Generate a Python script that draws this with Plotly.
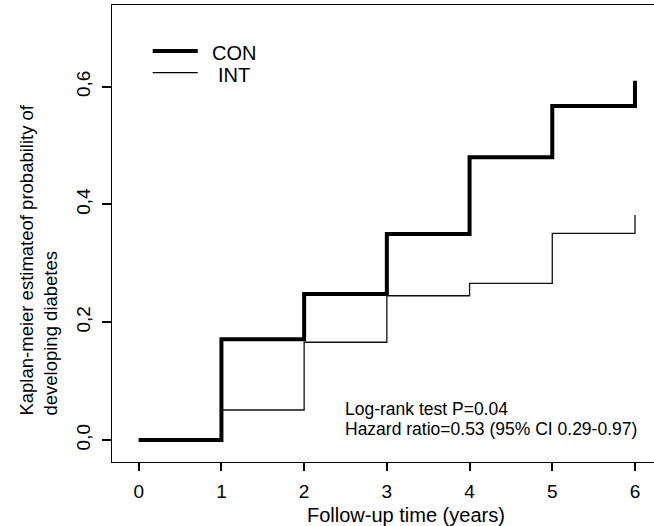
import plotly.graph_objects as go

# ---- data ----
times = [0, 1, 2, 3, 4, 5, 6]
con_values = [0.0, 0.171, 0.248, 0.350, 0.480, 0.567, 0.610]
int_values = [0.0, 0.051, 0.166, 0.245, 0.266, 0.351, 0.382]
series_names = ["CON", "INT"]
x_tick_vals = [0, 1, 2, 3, 4, 5, 6]
x_tick_text = ["0", "1", "2", "3", "4", "5", "6"]
y_tick_vals = [0.0, 0.2, 0.4, 0.6]
y_tick_text = ["0,0", "0,2", "0,4", "0,6"]
stats_lines = ["Log-rank test P=0.04", "Hazard ratio=0.53 (95% CI 0.29-0.97)"]
x_title = "Follow-up time (years)"
y_title = "Kaplan-meier estimateof probability of<br>developing diabetes"

FONT = "Liberation Sans, Arial, sans-serif"
W, H = 654, 526
L, T, B, R = 112, 5, 64, 0

fig = go.Figure()
fig.add_trace(go.Scatter(x=times, y=int_values, mode="lines", line_shape="hv",
                         line=dict(color="#111111", width=1.3), name=series_names[1],
                         showlegend=False))
fig.add_trace(go.Scatter(x=times, y=con_values, mode="lines", line_shape="hv",
                         line=dict(color="black", width=4), name=series_names[0],
                         showlegend=False))

xr = [-0.323, 6.230]
yr = [-0.0373, 0.7386]

fig.update_layout(
    width=W, height=H,
    margin=dict(l=L, r=R, t=T, b=B),
    paper_bgcolor="white", plot_bgcolor="white",
    font=dict(family=FONT, size=19, color="black"),
    xaxis=dict(range=xr, tickvals=x_tick_vals, ticktext=x_tick_text,
               showgrid=False, zeroline=False, showline=True, mirror=True,
               linecolor="black", linewidth=1.3, ticks="outside", ticklen=8,
               tickwidth=1.5, tickcolor="black", tickfont=dict(size=19),
               ticklabelstandoff=4),
    yaxis=dict(range=yr, tickvals=y_tick_vals, ticktext=y_tick_text,
               showgrid=False, zeroline=False, showline=True, mirror=False,
               linecolor="black", linewidth=1.3, ticks="outside", ticklen=9,
               tickwidth=2, tickcolor="black", tickangle=-90,
               tickfont=dict(size=19), ticklabelstandoff=4),
)

# legend (drawn manually)
legend_widths = [4, 1.3]
legend_y = [0.6606, 0.6237]
for name, lw, ly in zip(series_names, legend_widths, legend_y):
    fig.add_shape(type="line", xref="x", yref="y", x0=0.169, x1=0.714, y0=ly, y1=ly,
                  line=dict(color="black", width=lw))
    fig.add_annotation(xref="x", yref="y", x=1.15, y=ly - 0.004, text=name,
                       showarrow=False, xanchor="center", yanchor="middle",
                       font=dict(size=20))

# stats text
fig.add_annotation(xref="x", yref="y", x=2.468, y=0.053, text=stats_lines[0],
                   showarrow=False, xanchor="left", yanchor="middle", font=dict(size=17.5))
fig.add_annotation(xref="x", yref="y", x=2.468, y=0.019, text=stats_lines[1],
                   showarrow=False, xanchor="left", yanchor="middle", font=dict(size=17.5))

# axis titles
fig.add_annotation(xref="x", yref="paper", x=3.23, y=-0.115, text=x_title,
                   showarrow=False, xanchor="center", yanchor="middle", font=dict(size=20))
fig.add_annotation(xref="paper", yref="paper", x=-0.135, y=0.098, text=y_title,
                   textangle=-90, align="left", showarrow=False,
                   xanchor="center", yanchor="bottom", font=dict(size=18.5))

fig.write_html("out.html", config={"displayModeBar": False},
               post_script="document.body.style.margin='0';document.body.style.overflow='hidden';")
